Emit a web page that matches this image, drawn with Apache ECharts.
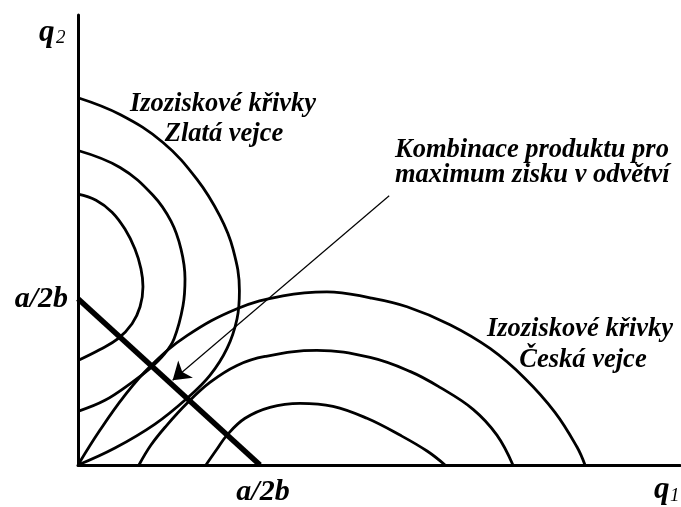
<!DOCTYPE html>
<html>
<head>
<meta charset="utf-8">
<script src="https://cdn.jsdelivr.net/npm/echarts@6/dist/echarts.min.js"></script>
<style>
html, body { margin: 0; background: #fff; }
#chart { width: 681px; height: 507px; }
</style>
</head>
<body>
<div id="chart"></div>
<script>
// jednotky: a/2b = 100 na obou osach
var tickValues = [100];
var tickLabels = ['a/2b'];
var q1Max = 330.8;
var q2Max = 270.7;

// izoziskove krivky - Zlata vejce [q1, q2]
var zlataOuter = [[0,220.9],[23.1,210.8],[46.7,194.0],[65.4,171.8],[78.0,149.7],[85.2,129.9],
  [88.7,104.8],[87.4,88.0],[81.9,70.1],[72.5,53.9],[59.9,40.1],[42.3,24.6],[20.3,10.2],[0,0]];
var zlataMiddle = [[0,189.2],[23.1,179.0],[41.2,162.3],[51.1,146.7],[56.6,129.9],[58.8,112.0],
  [57.7,95.8],[52.8,76.0],[47.3,66.5],[39.6,58.1],[29.7,49.7],[14.8,38.9],[0,32.3]];
var zlataInner = [[0,162.9],[9.9,159.3],[18.7,152.1],[25.8,141.9],[31.3,129.9],[34.6,118.0],[35.7,107.2],
  [34.1,95.2],[29.7,85.0],[22.0,76.0],[12.1,69.5],[0,62.9]];

// izoziskove krivky - Ceska vejce
var ceskaOuter = [[0,0],[12.1,21.0],[25.3,41.3],[39.6,59.3],[59.9,77.8],[87.4,94.0],[112.6,101.8],
  [136.8,104.2],[160.5,100.6],[180.8,95.2],[204.4,84.4],[226.4,70.1],[245.6,52.1],[262.1,31.7],
  [274.2,10.8],[278.6,0]];
var ceskaMiddle = [[33.5,0],[40.1,12.0],[48.4,23.4],[59.9,37.1],[72.5,49.7],[87.4,59.9],[102.8,65.3],
  [131.3,68.9],[160.5,64.7],[182.4,56.3],[198.9,46.7],[217.1,33.5],[230.2,18.0],[239.0,0]];
var ceskaInner = [[70.3,0],[76.4,9.6],[81.9,18.0],[91.8,28.1],[105.5,34.7],[122.0,37.1],[140.1,35.3],
  [158.8,28.1],[176.9,18.0],[191.8,8.4],[201.7,0]];

// primka q1 + q2 = a/2b
var maxLine = [[0,100],[100,0]];
// sipka od popisku
var arrowFrom = [171, 162];
var arrowTo = [52, 51];

var chart = echarts.init(document.getElementById('chart'));
var FONT = 'Liberation Serif';

function curve(data) {
  return {
    type: 'line',
    data: data,
    smooth: 0.4,
    showSymbol: false,
    silent: true,
    lineStyle: { color: '#000', width: 2.8 }
  };
}

function txt(x, y, text, size, align, bold) {
  return {
    type: 'text',
    x: x,
    y: y,
    silent: true,
    style: {
      text: text,
      fill: '#000',
      align: align || 'center',
      verticalAlign: 'middle',
      font: 'italic ' + (bold === false ? 'normal' : 'bold') + ' ' + size + 'px "' + FONT + '"'
    }
  };
}

var tickLabel = {
  customValues: tickValues,
  formatter: function (v) { return tickLabels[tickValues.indexOf(v)] || ''; },
  color: '#000',
  fontFamily: FONT,
  fontStyle: 'italic',
  fontWeight: 'bold',
  fontSize: 30
};

chart.setOption({
  backgroundColor: '#fff',
  animation: false,
  grid: { left: 78, right: 1, top: 15, bottom: 40 },
  xAxis: {
    type: 'value',
    min: 0,
    max: q1Max,
    splitLine: { show: false },
    axisTick: { show: false },
    axisLine: { lineStyle: { color: '#000', width: 3 } },
    axisLabel: Object.assign({}, tickLabel, { margin: 12, padding: [0, 0, 0, 6] })
  },
  yAxis: {
    type: 'value',
    min: 0,
    max: q2Max,
    splitLine: { show: false },
    axisTick: { show: false },
    axisLine: { lineStyle: { color: '#000', width: 3 } },
    axisLabel: Object.assign({}, tickLabel, { margin: 10 })
  },
  series: [
    curve(zlataOuter),
    curve(zlataMiddle),
    curve(zlataInner),
    curve(ceskaOuter),
    curve(ceskaMiddle),
    curve(ceskaInner),
    {
      type: 'line',
      data: maxLine,
      showSymbol: false,
      silent: true,
      lineStyle: { color: '#000', width: 5.5 }
    },
    {
      type: 'lines',
      coordinateSystem: 'cartesian2d',
      silent: true,
      symbol: ['none', 'arrow'],
      symbolSize: 17,
      lineStyle: { color: '#000', width: 1.2, opacity: 1 },
      data: [{ coords: [arrowFrom, arrowTo] }]
    }
  ],
  graphic: [
    txt(39, 33, 'q', 31, 'left'),
    txt(56, 38, '2', 19, 'left', false),
    txt(654, 490, 'q', 31, 'left'),
    txt(670, 496, '1', 19, 'left', false),
    txt(223, 104, 'Izoziskové křivky', 26.5),
    txt(224, 134, 'Zlatá vejce', 26.5),
    txt(395, 150, 'Kombinace produktu pro', 26.5, 'left'),
    txt(395, 175, 'maximum zisku v odvětví', 26.5, 'left'),
    txt(580, 329, 'Izoziskové křivky', 26.5),
    txt(583, 360, 'Česká vejce', 26.5)
  ]
});
</script>
</body>
</html>
